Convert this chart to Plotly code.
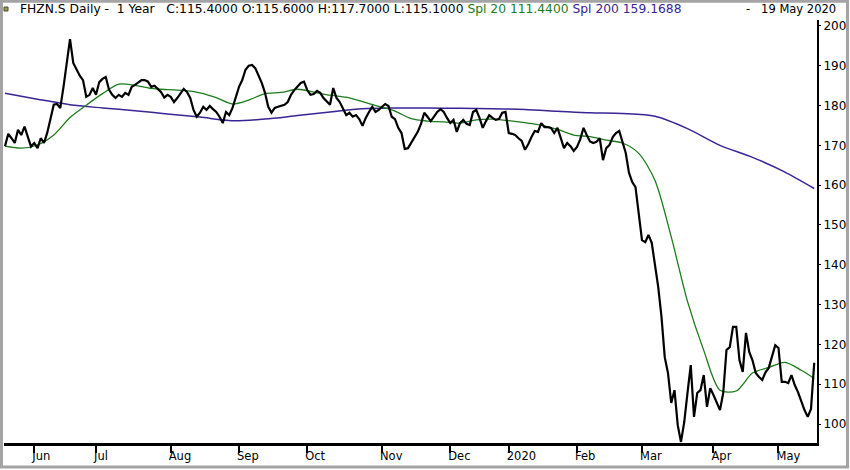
import pandas as pd
import plotly.graph_objects as go

# ---------------- data ----------------
holidays = ["2019-05-30", "2019-06-10", "2019-08-01", "2019-12-24", "2019-12-25",
            "2019-12-26", "2019-12-31", "2020-01-01", "2020-01-02", "2020-04-10",
            "2020-04-13", "2020-05-01"]
trade_dates = [d.strftime("%Y-%m-%d") for d in
               pd.bdate_range("2019-05-20", "2020-05-19", freq="C", holidays=holidays)]

close = [
    169.8, 172.9, 171.8, 170.6, 173.9, 172.6, 174.7, 172.4, 169.7, 170.6,
    169.3, 171.8, 170.6, 173.2, 177.0, 180.2, 180.4, 179.4, 184.7, 191.0,
    196.7, 190.7, 189.0, 187.5, 186.4, 182.2, 182.7, 184.4, 182.7, 185.9,
    186.7, 187.2, 184.0, 182.7, 181.9, 182.7, 182.2, 183.2, 182.7, 184.7,
    185.2, 185.7, 186.4, 186.4, 186.0, 184.7, 185.0, 184.2, 183.4, 182.0,
    182.7, 182.2, 180.9, 181.9, 183.2, 184.2, 183.4, 181.9, 178.9, 177.2,
    178.2, 179.7, 178.9, 179.9, 179.1, 178.4, 177.2, 175.6, 178.4, 177.6,
    179.4, 182.2, 184.7, 186.4, 189.0, 190.0, 190.2, 189.4, 187.7, 185.7,
    183.2, 179.7, 178.2, 179.4, 179.7, 179.9, 180.2, 180.9, 182.7, 183.9,
    184.8, 185.7, 186.0, 183.9, 182.7, 182.9, 183.7, 183.2, 181.9, 181.0,
    180.2, 184.4, 181.9, 180.9, 179.4, 177.6, 178.2, 177.2, 177.6, 176.6,
    174.9, 176.9, 178.4, 179.7, 178.4, 178.9, 179.7, 180.4, 179.9, 177.2,
    176.6, 174.4, 173.1, 169.1, 169.3, 170.6, 172.0, 173.4, 175.4, 178.2,
    177.2, 176.1, 177.2, 178.4, 179.1, 178.4, 176.9, 175.6, 176.4, 173.4,
    175.6, 176.4, 175.4, 175.1, 178.4, 178.9, 176.9, 174.4, 176.1, 177.6,
    176.9, 176.4, 176.6, 178.2, 178.4, 173.1, 172.9, 172.6, 171.8, 171.1,
    168.9, 170.3, 172.1, 173.6, 173.4, 175.6, 174.6, 174.6, 174.4, 173.1,
    174.4, 172.1, 169.3, 170.6, 169.8, 168.6, 169.6, 171.5, 174.4, 172.6,
    171.0, 170.6, 170.9, 171.8, 166.3, 169.3, 170.1, 172.1, 173.1, 173.6,
    170.9, 168.1, 163.1, 160.8, 159.5, 152.0, 146.2, 145.7, 147.5, 145.5,
    140.5, 134.4, 126.9, 116.8, 112.8, 105.3, 108.5, 99.7, 95.5, 100.5,
    107.8, 114.8, 101.8, 107.8, 108.5, 112.3, 104.3, 109.0, 107.3, 105.5,
    103.5, 107.8, 118.6, 119.3, 124.4, 124.4, 116.0, 113.1, 122.9, 118.1,
    116.0, 112.8, 111.8, 111.1, 113.0, 114.1, 117.0, 119.8, 119.1, 110.6,
    110.6, 110.3, 112.3, 109.8, 108.0, 105.5, 103.5, 101.8, 103.8, 115.4,
]

# 20-day simple moving average, read every 5th trading day (+ last day)
spl20 = [169.8, 169.3, 170.1, 172.6, 177.0, 180.1, 183.0, 185.4, 185.1, 184.3,
         184.0, 183.8, 183.2, 182.0, 180.4, 181.4, 183.0, 183.3, 184.1, 183.4,
         182.6, 182.1, 181.0, 179.8, 178.6, 176.7, 176.1, 175.9, 175.6, 176.4,
         176.6, 176.2, 175.7, 175.1, 174.0, 172.6, 172.2, 171.3, 170.6, 168.0,
         161.2, 147.0, 130.8, 118.5, 108.5, 108.3, 112.8, 114.2, 115.5, 113.5,
         111.44]
# 200-day simple moving average, read every 10th trading day (+ last day)
spl200 = [183.1, 181.6, 180.2, 179.4, 178.7, 177.9, 177.1, 176.2, 176.6, 177.5,
          178.4, 179.2, 179.4, 179.4, 179.3, 179.2, 179.0, 178.6, 178.2, 178.0,
          177.3, 174.2, 170.0, 167.0, 163.3, 159.17]

month_ticks = ["2019-06-03", "2019-07-01", "2019-08-02", "2019-09-02", "2019-10-01",
               "2019-11-01", "2019-12-02", "2020-01-03", "2020-02-03", "2020-03-02",
               "2020-04-01", "2020-05-04"]
month_labels = ["Jun", "Jul", "Aug", "Sep", "Oct", "Nov", "Dec", "2020", "Feb",
                "Mar", "Apr", "May"]
y_ticks = [100, 110, 120, 130, 140, 150, 160, 170, 180, 190, 200]

n = min(len(trade_dates), len(close))
price_dates = trade_dates[-n:]
close = close[-n:]
spl20_dates = price_dates[::5][:len(spl20) - 1] + [price_dates[-1]]
spl200_dates = price_dates[::10][:len(spl200) - 1] + [price_dates[-1]]

FONT = "DejaVu Sans, Verdana, sans-serif"
GREEN = "#1c7c1c"
PURPLE = "#3a2496"

fig = go.Figure()
fig.add_trace(go.Scatter(x=spl200_dates, y=spl200, mode="lines",
                         line=dict(color=PURPLE, width=1.5, shape="spline", smoothing=0.8),
                         hoverinfo="skip"))
fig.add_trace(go.Scatter(x=spl20_dates, y=spl20, mode="lines",
                         line=dict(color=GREEN, width=1.3, shape="spline", smoothing=0.8),
                         hoverinfo="skip"))
fig.add_trace(go.Scatter(x=price_dates, y=close, mode="lines",
                         line=dict(color="black", width=2.2)))

header = ("FHZN.S Daily -&nbsp;&nbsp;1 Year&nbsp;&nbsp;&nbsp;C:115.4000 O:115.6000 "
          "H:117.7000 L:115.1000 "
          f"<span style='color:{GREEN}'>Spl 20 111.4400</span> "
          f"<span style='color:{PURPLE}'>Spl 200 159.1688</span>")

# plot area in pixels: left 4, width 813, top 20, height 423
def px(x):
    return (x - 4) / 813.0

def py(y):
    return (443 - y) / 423.0

fig.update_layout(
    width=850, height=470,
    margin=dict(l=4, r=33, t=20, b=27),
    paper_bgcolor="white", plot_bgcolor="white",
    showlegend=False,
    font=dict(family=FONT, color="black", size=12),
    xaxis=dict(type="category", categoryorder="array", categoryarray=price_dates,
               range=[-0.31, n - 0.15], showgrid=False, zeroline=False,
               showline=True, linecolor="black", linewidth=2.5,
               ticks="outside", ticklen=7, tickwidth=1.5, tickcolor="black",
               tickvals=month_ticks, ticktext=month_labels,
               ticklabelposition="outside right", ticklabelshift=-4,
               tickfont=dict(family=FONT, size=11.5, color="black")),
    yaxis=dict(side="right", range=[95.23, 201.5], showgrid=False, zeroline=False,
               showline=True, linecolor="black", linewidth=2,
               ticks="outside", ticklen=2, tickcolor="black",
               tickvals=y_ticks,
               tickfont=dict(family=FONT, size=12, color="black")),
    annotations=[
        dict(xref="paper", yref="paper", x=px(18), y=py(9), xanchor="left",
             yanchor="middle", text=header, showarrow=False,
             font=dict(family=FONT, size=12.3, color="black")),
        dict(xref="paper", yref="paper", x=px(838), y=py(9), xanchor="right",
             yanchor="middle", text="-&nbsp;&nbsp;&nbsp;19 May 2020", showarrow=False,
             font=dict(family=FONT, size=11.5, color="black")),
    ],
    shapes=[
        dict(type="rect", xref="paper", yref="paper",
             x0=px(1.5), x1=px(847.5), y0=py(467), y1=py(1.2),
             line=dict(color="#a4a4a4", width=3), fillcolor="rgba(0,0,0,0)"),
        dict(type="rect", xref="paper", yref="paper",
             x0=px(4), x1=px(8), y0=py(11), y1=py(7),
             line=dict(color="#4a4a2a", width=1), fillcolor="#9c9c48"),
    ],
)

fig.write_html("out.html", config={"displayModeBar": False},
               post_script="document.body.style.margin='0';document.body.style.overflow='hidden';")
